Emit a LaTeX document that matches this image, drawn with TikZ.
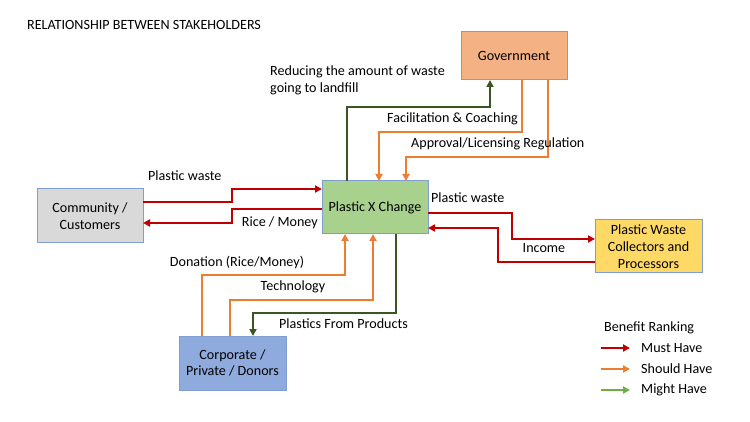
\documentclass[tikz,border=0pt]{standalone}
\usepackage{fontspec}
\setmainfont{Carlito}
\usetikzlibrary{arrows.meta}
\definecolor{cred}{HTML}{C00000}
\definecolor{corange}{HTML}{ED7D31}
\definecolor{cdgreen}{HTML}{385723}
\definecolor{clgreen}{HTML}{70AD47}
\definecolor{cborder}{HTML}{7F9FD0}
\definecolor{fgov}{HTML}{F4B183}
\definecolor{fpxc}{HTML}{A9D18E}
\definecolor{fcom}{HTML}{D9D9D9}
\definecolor{fcorp}{HTML}{8FAADC}
\definecolor{fcol}{HTML}{FFD966}
\begin{document}
\begin{tikzpicture}[x=1pt,y=-1pt,
  every node/.style={font=\fontsize{14.1}{16.8}\selectfont, text=black},
  stake/.style={draw=cborder, line width=1pt, align=center, inner sep=0pt},
  conn/.style={line width=2pt, -{Triangle[length=7pt,width=7pt]}},
  mustarrow/.style={conn, draw=cred},
  shouldarrow/.style={conn, draw=corange},
  mightarrow/.style={conn, draw=cdgreen},
  lbl/.style={inner sep=0pt}
]
\useasboundingbox (0,0) rectangle (750,422);

% boxes
\node[stake, fill=fgov, minimum width=106pt, minimum height=48pt] (gov) at (514,56) {Government};
\node[stake, fill=fpxc, minimum width=106pt, minimum height=53pt] (pxc) at (375,207.5) {Plastic X Change};
\node[stake, fill=fcom, minimum width=106pt, minimum height=54pt] (com) at (90,216) {Community /\\Customers};
\node[stake, fill=fcorp, minimum width=107pt, minimum height=54pt] (corp) at (232.5,363) {Corporate /\\Private / Donors};
\node[stake, fill=fcol, minimum width=107pt, minimum height=53pt] (col) at (648.5,246.5) {Plastic Waste\\Collectors and\\Processors};

% title
\node[lbl, anchor=west] (title) at (27,25) {RELATIONSHIP BETWEEN STAKEHOLDERS};

% coordinates
\coordinate (g1) at (347,181);
\coordinate (g1b) at (490,80);
\coordinate (f1) at (522,80);
\coordinate (f1b) at (379,181);
\coordinate (a1) at (548,80);
\coordinate (a1b) at (406,181);
\coordinate (p1) at (143,202);
\coordinate (p1b) at (322,189);
\coordinate (r1) at (322,209);
\coordinate (r1b) at (143,223);
\coordinate (w1) at (428,213);
\coordinate (w1b) at (595,239);
\coordinate (i1) at (595,262);
\coordinate (i1b) at (428,228);
\coordinate (d1) at (202,336);
\coordinate (d1b) at (345,234);
\coordinate (t1) at (230,336);
\coordinate (t1b) at (373,234);
\coordinate (pp1) at (396,234);
\coordinate (pp1b) at (253,336);

% connectors
\draw[mightarrow] (g1) |- (490,107) -- (g1b);
\draw[shouldarrow] (f1) |- (379,132) -- (f1b);
\draw[shouldarrow] (a1) |- (406,157) -- (a1b);
\draw[mustarrow] (p1) -| (232,189) -- (p1b);
\draw[mustarrow] (r1) -| (232,223) -- (r1b);
\draw[mustarrow] (w1) -| (512,239) -- (w1b);
\draw[mustarrow] (i1) -| (498,228) -- (i1b);
\draw[shouldarrow] (d1) |- (345,275) -- (d1b);
\draw[shouldarrow] (t1) |- (373,300) -- (t1b);
\draw[mightarrow] (pp1) |- (253,313) -- (pp1b);

% labels
\node[lbl, anchor=west, align=left] (lred) at (270,80) {Reducing the amount of waste\\going to landfill};
\node[lbl, anchor=west] (lfac) at (387,119) {Facilitation \& Coaching};
\node[lbl, anchor=west] (lapp) at (411,144) {Approval/Licensing Regulation};
\node[lbl, anchor=west] (lpw1) at (148,176) {Plastic waste};
\node[lbl, anchor=east] (lrice) at (318,223) {Rice / Money};
\node[lbl, anchor=west] (lpw2) at (431,198) {Plastic waste};
\node[lbl] (linc) at (544,248) {Income};
\node[lbl] (ldon) at (237,262) {Donation (Rice/Money)};
\node[lbl] (ltech) at (293,287) {Technology};
\node[lbl, anchor=west] (lpp) at (279,324) {Plastics From Products};

% legend
\node[lbl, anchor=west] (legt) at (604,328) {Benefit Ranking};
\coordinate (lm1) at (601,348); \coordinate (lm2) at (630,348);
\coordinate (ls1) at (601,369); \coordinate (ls2) at (630,369);
\coordinate (lg1) at (601,390); \coordinate (lg2) at (630,390);
\draw[mustarrow] (lm1) -- (lm2);
\draw[shouldarrow] (ls1) -- (ls2);
\draw[conn, draw=clgreen] (lg1) -- (lg2);
\node[lbl, anchor=west] (legm) at (641,348) {Must Have};
\node[lbl, anchor=west] (legs) at (641,369) {Should Have};
\node[lbl, anchor=west] (legg) at (641,390) {Might Have};
\end{tikzpicture}
\end{document}
